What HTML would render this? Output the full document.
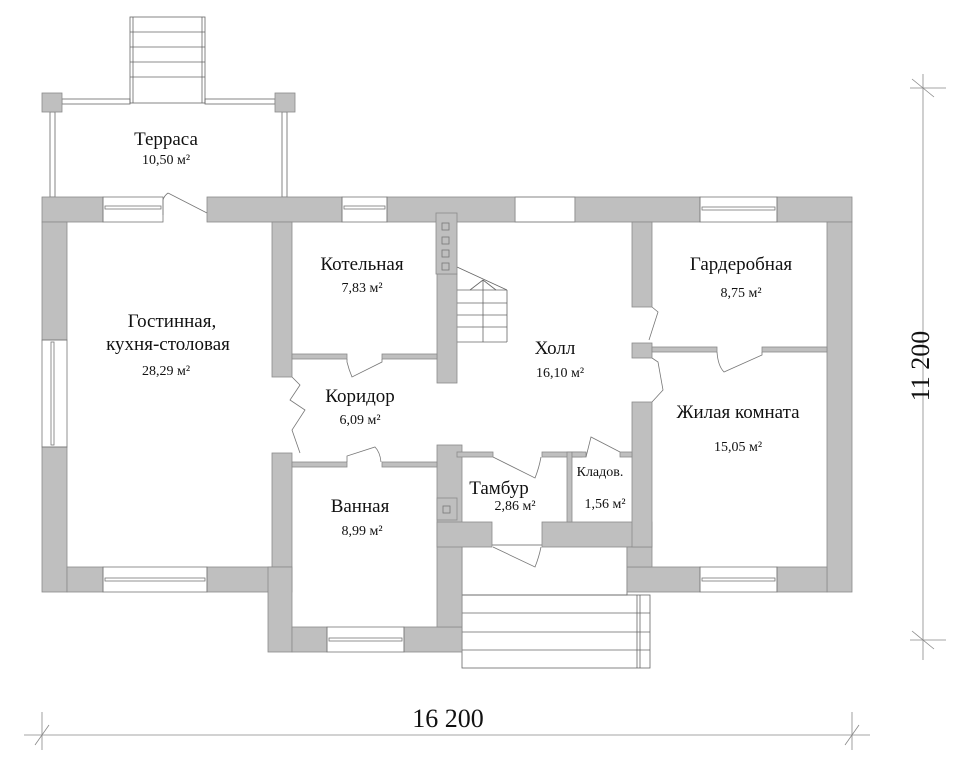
<!DOCTYPE html>
<html><head><meta charset="utf-8"><style>
html,body{margin:0;padding:0;background:#fff;}
svg{display:block;}
text{font-family:"Liberation Serif",serif;fill:#111;}
</style></head><body>
<svg width="971" height="768" viewBox="0 0 971 768" xmlns="http://www.w3.org/2000/svg">
<g fill="none" stroke="#666" stroke-width="0.8">
<rect x="130" y="17" width="75" height="86"/>
<line x1="133" y1="17" x2="133" y2="103"/><line x1="202" y1="17" x2="202" y2="103"/>
<line x1="130" y1="32" x2="205" y2="32"/><line x1="130" y1="47" x2="205" y2="47"/>
<line x1="130" y1="62" x2="205" y2="62"/><line x1="130" y1="77" x2="205" y2="77"/>
<rect x="62" y="99" width="68" height="5"/><rect x="205" y="99" width="70" height="5"/>
<rect x="50" y="112" width="5" height="85"/><rect x="282" y="112" width="5" height="85"/>
<rect x="462" y="545" width="165" height="50"/>
<rect x="462" y="595" width="188" height="73"/>
<line x1="462" y1="613" x2="650" y2="613"/><line x1="462" y1="632" x2="650" y2="632"/><line x1="462" y1="650" x2="650" y2="650"/>
<line x1="637" y1="595" x2="637" y2="668"/><line x1="640" y1="595" x2="640" y2="668"/>
<line x1="457" y1="267" x2="507" y2="290"/><line x1="507" y1="290" x2="507" y2="342"/>
<line x1="457" y1="290" x2="507" y2="290"/><line x1="457" y1="303" x2="507" y2="303"/><line x1="457" y1="315" x2="507" y2="315"/>
<line x1="457" y1="327" x2="507" y2="327"/><line x1="457" y1="342" x2="507" y2="342"/>
<line x1="483" y1="280" x2="483" y2="342"/><line x1="470" y1="290" x2="483" y2="280"/><line x1="483" y1="280" x2="496" y2="290"/>
<rect x="515" y="197" width="60" height="25"/>
</g>
<g fill="#bfbfbf" stroke="#8a8a8a" stroke-width="0.8">
<rect x="42" y="93" width="20" height="19"/><rect x="275" y="93" width="20" height="19"/>
<rect x="42" y="197" width="61" height="25"/>
<rect x="207" y="197" width="135" height="25"/>
<rect x="387" y="197" width="128" height="25"/>
<rect x="575" y="197" width="125" height="25"/>
<rect x="777" y="197" width="75" height="25"/>
<rect x="42" y="222" width="25" height="118"/>
<rect x="42" y="447" width="25" height="145"/>
<rect x="67" y="567" width="36" height="25"/>
<rect x="207" y="567" width="85" height="25"/>
<rect x="827" y="222" width="25" height="370"/>
<rect x="777" y="567" width="50" height="25"/>
<rect x="627" y="567" width="73" height="25"/>
<rect x="272" y="222" width="20" height="155"/>
<rect x="272" y="453" width="20" height="114"/>
<rect x="268" y="567" width="24" height="85"/>
<rect x="292" y="627" width="35" height="25"/>
<rect x="404" y="627" width="58" height="25"/>
<rect x="437" y="445" width="25" height="182"/>
<rect x="437" y="522" width="55" height="25"/>
<rect x="542" y="522" width="110" height="25"/>
<rect x="627" y="547" width="25" height="20"/>
<rect x="632" y="222" width="20" height="85"/>
<rect x="632" y="343" width="20" height="15"/>
<rect x="632" y="402" width="20" height="145"/>
<rect x="437" y="274" width="20" height="109"/>
<rect x="436" y="213" width="21" height="61"/>
<rect x="437" y="498" width="20" height="22"/>
<rect x="292" y="354" width="55" height="5"/><rect x="382" y="354" width="55" height="5"/>
<rect x="292" y="462" width="55" height="5"/><rect x="382" y="462" width="55" height="5"/>
<rect x="457" y="452" width="36" height="5"/><rect x="542" y="452" width="40" height="5"/>
<rect x="567" y="452" width="5" height="70"/>
<rect x="572" y="452" width="14" height="5"/><rect x="620" y="452" width="12" height="5"/>
<rect x="652" y="347" width="65" height="5"/><rect x="762" y="347" width="65" height="5"/>
</g>
<g fill="none" stroke="#777" stroke-width="0.8">
<rect x="442" y="223" width="7" height="7"/><rect x="442" y="237" width="7" height="7"/>
<rect x="442" y="250" width="7" height="7"/><rect x="442" y="263" width="7" height="7"/>
<rect x="443" y="506" width="7" height="7"/>
<rect x="103" y="197" width="60" height="25"/><rect x="105" y="206" width="56" height="3"/>
<rect x="342" y="197" width="45" height="25"/><rect x="344" y="206" width="41" height="3"/>
<rect x="700" y="197" width="77" height="25"/><rect x="702" y="207" width="73" height="3"/>
<rect x="700" y="567" width="77" height="25"/><rect x="702" y="578" width="73" height="3"/>
<rect x="103" y="567" width="104" height="25"/><rect x="105" y="578" width="100" height="3"/>
<rect x="327" y="627" width="77" height="25"/><rect x="329" y="638" width="73" height="3"/>
<rect x="42" y="340" width="25" height="107"/><rect x="51" y="342" width="3" height="103"/>
<path d="M163 200 L163 215 M168 193 L207 213 M168 193 Q164 196 163 200"/>
<path d="M347 359 L347 362 Q349 370 352 377 L382 362 L382 359"/>
<path d="M347 462 L347 456 L375 447 Q380 452 381 462"/>
<path d="M292 377 L300 385 L290 400 L305 410 L292 430 L300 453"/>
<path d="M493 457 L535 478 Q539 468 541 457"/>
<path d="M493 547 L535 567 Q539 557 541 547"/>
<path d="M586 457 L591 437 L620 452"/>
<path d="M652 307 L658 312 L649 340 M652 358 L658 362 L663 390 L652 402"/>
<path d="M717 352 Q718 366 724 372 L762 355 L762 352"/>
</g>
<g stroke="#888" stroke-width="0.8" fill="none">
<line x1="923" y1="74" x2="923" y2="660"/>
<line x1="910" y1="88" x2="946" y2="88"/><line x1="910" y1="640" x2="946" y2="640"/>
<line x1="912" y1="79" x2="934" y2="97"/><line x1="912" y1="631" x2="934" y2="649"/>
<line x1="24" y1="735" x2="870" y2="735"/>
<line x1="42" y1="712" x2="42" y2="750"/><line x1="852" y1="712" x2="852" y2="750"/>
<line x1="35" y1="745" x2="49" y2="725"/><line x1="845" y1="745" x2="859" y2="725"/>
</g>
<text x="448" y="727" font-size="26" text-anchor="middle">16 200</text>
<text transform="translate(929,366) rotate(-90)" font-size="26" text-anchor="middle">11 200</text>
<g text-anchor="middle">
<text x="166" y="145" font-size="19">Терраса</text>
<text x="166" y="164" font-size="14">10,50 м²</text>
<text x="362" y="270" font-size="19">Котельная</text>
<text x="362" y="292" font-size="14">7,83 м²</text>
<text x="172" y="327" font-size="19">Гостинная,</text>
<text x="168" y="350" font-size="19">кухня-столовая</text>
<text x="166" y="375" font-size="14">28,29 м²</text>
<text x="555" y="354" font-size="19">Холл</text>
<text x="560" y="377" font-size="14">16,10 м²</text>
<text x="741" y="270" font-size="19">Гардеробная</text>
<text x="741" y="297" font-size="14">8,75 м²</text>
<text x="738" y="418" font-size="19">Жилая комната</text>
<text x="738" y="451" font-size="14">15,05 м²</text>
<text x="360" y="402" font-size="19">Коридор</text>
<text x="360" y="424" font-size="14">6,09 м²</text>
<text x="360" y="512" font-size="19">Ванная</text>
<text x="362" y="535" font-size="14">8,99 м²</text>
<text x="499" y="494" font-size="19">Тамбур</text>
<text x="515" y="510" font-size="14">2,86 м²</text>
<text x="600" y="476" font-size="14">Кладов.</text>
<text x="605" y="508" font-size="14">1,56 м²</text>
</g>
</svg>
</body></html>
